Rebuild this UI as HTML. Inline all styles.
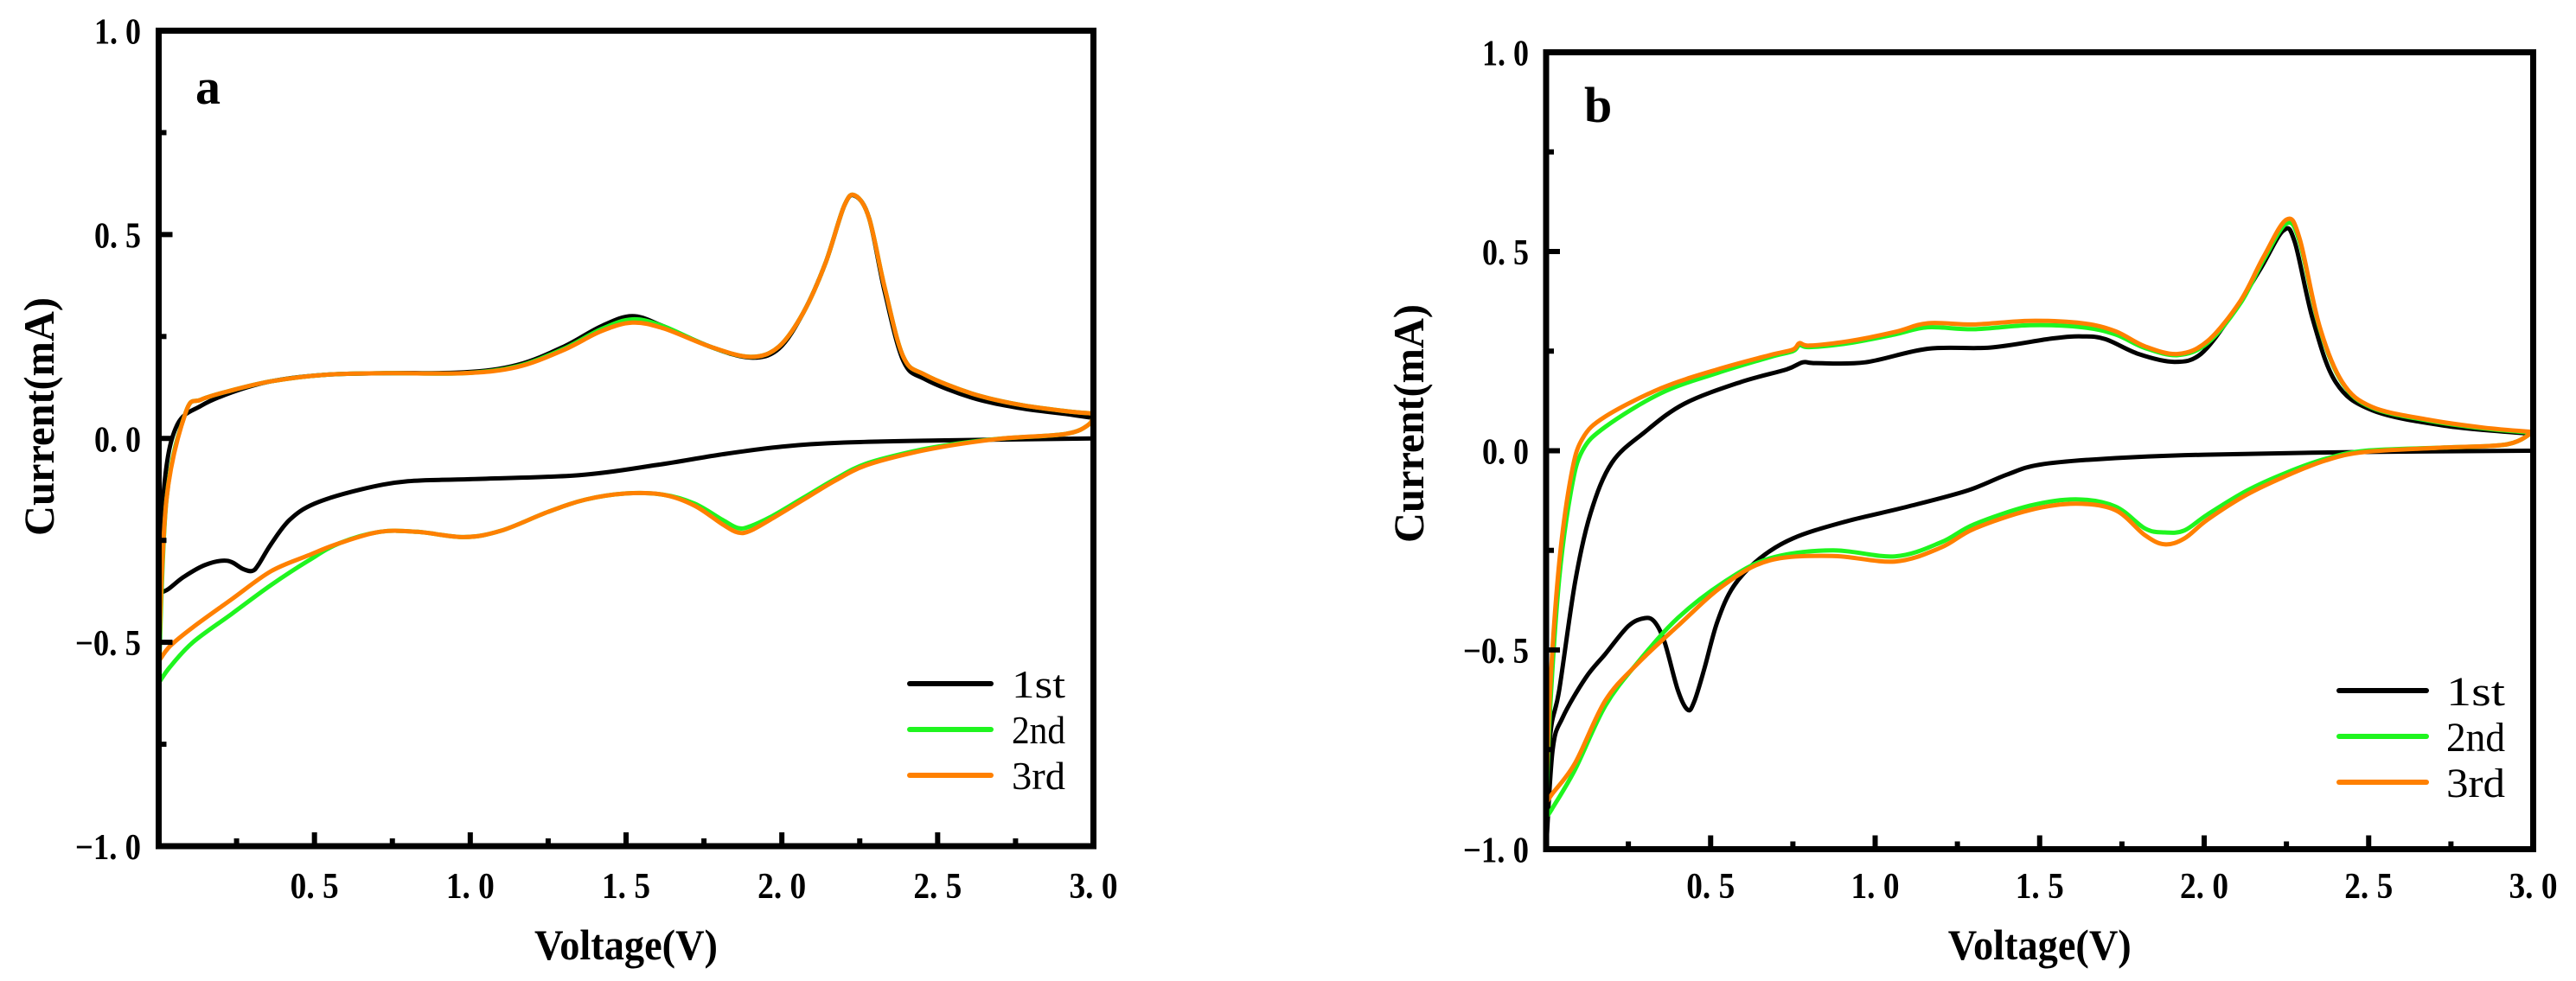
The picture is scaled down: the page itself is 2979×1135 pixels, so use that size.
<!DOCTYPE html>
<html><head><meta charset="utf-8"><style>
html,body{margin:0;padding:0;background:#fff;}
svg{display:block;}
text{font-family:"Liberation Serif",serif;fill:#000;}
</style></head><body>
<svg id="fig" width="2979" height="1135" viewBox="0 0 2979 1135" xmlns="http://www.w3.org/2000/svg"></svg>
<script>
// ---- Panel a data ----
const aV1=[0,0.03,0.08,0.15,0.22,0.27,0.3,0.32,0.36,0.42,0.5,0.65,0.8,1.0,1.35,1.6,1.8,2.0,2.2,2.5,3.0];
const aI1=[-0.38,-0.37,-0.34,-0.31,-0.3,-0.32,-0.325,-0.31,-0.26,-0.2,-0.16,-0.125,-0.105,-0.1,-0.09,-0.065,-0.04,-0.02,-0.01,-0.005,0.0];
const aV1u=[0,0.02,0.06,0.136,0.235,0.36,0.53,0.73,0.98,1.15,1.3,1.42,1.52,1.62,1.77,1.9,1.99,2.07,2.14,2.2,2.235,2.28,2.33,2.39,2.46,2.61,2.76,2.91,3.0];
const aI1u=[-0.38,-0.1,0.034,0.08,0.113,0.14,0.156,0.16,0.162,0.18,0.225,0.275,0.3,0.275,0.225,0.198,0.22,0.31,0.43,0.57,0.595,0.54,0.36,0.19,0.145,0.1,0.075,0.06,0.05];
const aV2=[0,0.037,0.11,0.235,0.36,0.48,0.58,0.71,0.83,0.98,1.1,1.25,1.37,1.5,1.62,1.72,1.81,1.86,1.9,1.97,2.07,2.17,2.27,2.42,2.56,2.71,2.91,2.985,3.0];
const aI2=[-0.6,-0.56,-0.5,-0.43,-0.36,-0.3,-0.257,-0.229,-0.229,-0.242,-0.226,-0.18,-0.15,-0.135,-0.138,-0.16,-0.2,-0.22,-0.215,-0.19,-0.145,-0.1,-0.062,-0.032,-0.013,0,0.011,0.034,0.061];
const aV2u=[0,0.025,0.087,0.136,0.235,0.36,0.53,0.73,0.98,1.15,1.3,1.42,1.52,1.62,1.77,1.9,1.99,2.07,2.14,2.2,2.235,2.28,2.33,2.39,2.46,2.61,2.76,2.91,3.0];
const aI2u=[-0.6,-0.15,0.064,0.095,0.118,0.14,0.156,0.16,0.16,0.177,0.22,0.268,0.292,0.275,0.225,0.2,0.225,0.31,0.43,0.57,0.596,0.54,0.37,0.2,0.156,0.11,0.083,0.067,0.061];
const aV3=[0,0.037,0.11,0.235,0.36,0.48,0.58,0.71,0.83,0.98,1.1,1.25,1.37,1.5,1.62,1.72,1.81,1.86,1.9,1.97,2.07,2.17,2.27,2.42,2.56,2.71,2.91,2.985,3.0];
const aI3=[-0.547,-0.509,-0.463,-0.394,-0.326,-0.287,-0.257,-0.229,-0.229,-0.242,-0.226,-0.18,-0.15,-0.135,-0.138,-0.165,-0.211,-0.231,-0.226,-0.196,-0.15,-0.104,-0.066,-0.035,-0.015,0,0.011,0.034,0.061];
const aV3u=[0,0.025,0.087,0.136,0.235,0.36,0.53,0.73,0.98,1.15,1.3,1.42,1.52,1.62,1.77,1.9,1.99,2.07,2.14,2.2,2.235,2.28,2.33,2.39,2.46,2.61,2.76,2.91,3.0];
const aI3u=[-0.547,-0.15,0.064,0.095,0.118,0.14,0.156,0.16,0.16,0.175,0.217,0.263,0.284,0.27,0.225,0.2,0.225,0.31,0.43,0.57,0.596,0.54,0.37,0.2,0.156,0.11,0.083,0.067,0.061];
// ---- Panel b data ----
const bV1=[0,0.02,0.05,0.12,0.18,0.25,0.3,0.33,0.36,0.4,0.43,0.45,0.48,0.52,0.57,0.65,0.75,0.9,1.1,1.28,1.4,1.5,1.7,2.0,2.5,3.0];
const bI1=[-1.0,-0.75,-0.67,-0.57,-0.51,-0.44,-0.42,-0.43,-0.48,-0.6,-0.65,-0.63,-0.55,-0.43,-0.34,-0.27,-0.22,-0.18,-0.14,-0.1,-0.06,-0.035,-0.02,-0.01,-0.003,0.0];
const bV1u=[0,0.012,0.04,0.088,0.135,0.2,0.3,0.42,0.59,0.73,0.78,0.82,0.97,1.16,1.35,1.54,1.63,1.7,1.8,1.91,1.99,2.08,2.17,2.24,2.275,2.33,2.4,2.51,2.73,3.0];
const bI1u=[-1.0,-0.72,-0.6,-0.33,-0.157,-0.03,0.047,0.118,0.172,0.204,0.222,0.22,0.222,0.256,0.259,0.282,0.287,0.28,0.243,0.223,0.243,0.337,0.455,0.552,0.525,0.33,0.172,0.102,0.063,0.042];
const bV2=[0,0.017,0.088,0.18,0.28,0.4,0.54,0.68,0.87,1.06,1.2,1.3,1.47,1.61,1.73,1.82,1.88,1.94,2.01,2.13,2.25,2.37,2.49,2.73,2.92,3.0];
const bI2=[-0.92,-0.9,-0.8,-0.64,-0.53,-0.42,-0.33,-0.27,-0.25,-0.265,-0.23,-0.185,-0.138,-0.122,-0.14,-0.195,-0.205,-0.2,-0.16,-0.1,-0.055,-0.02,0.0,0.008,0.016,0.047];
const bV2u=[0,0.012,0.04,0.076,0.11,0.18,0.35,0.52,0.68,0.75,0.77,0.8,0.92,1.06,1.16,1.3,1.47,1.63,1.73,1.82,1.92,2.01,2.11,2.18,2.25,2.29,2.35,2.42,2.51,2.68,2.85,3.0];
const bI2u=[-0.92,-0.65,-0.32,-0.1,0.0,0.06,0.145,0.195,0.235,0.25,0.265,0.26,0.27,0.292,0.31,0.305,0.315,0.31,0.292,0.258,0.24,0.27,0.37,0.478,0.57,0.525,0.31,0.17,0.108,0.076,0.056,0.045];
const bV3=[0,0.017,0.088,0.18,0.28,0.4,0.54,0.68,0.87,1.06,1.2,1.3,1.47,1.61,1.73,1.82,1.88,1.94,2.01,2.13,2.25,2.37,2.49,2.73,2.92,3.0];
const bI3=[-0.886,-0.863,-0.784,-0.627,-0.533,-0.44,-0.337,-0.275,-0.264,-0.278,-0.243,-0.196,-0.149,-0.133,-0.149,-0.212,-0.235,-0.22,-0.173,-0.11,-0.063,-0.024,-0.003,0.008,0.016,0.047];
const bV3u=[0,0.012,0.04,0.076,0.11,0.18,0.35,0.52,0.68,0.75,0.77,0.8,0.92,1.06,1.16,1.3,1.47,1.63,1.73,1.82,1.92,2.01,2.11,2.18,2.25,2.29,2.35,2.42,2.51,2.68,2.85,3.0];
const bI3u=[-0.886,-0.6,-0.28,-0.063,0.03,0.086,0.157,0.204,0.24,0.254,0.27,0.264,0.275,0.298,0.32,0.317,0.326,0.32,0.3,0.262,0.243,0.275,0.376,0.486,0.58,0.533,0.314,0.172,0.11,0.078,0.058,0.047];
const xTicks=["0.5","1.0","1.5","2.0","2.5","3.0"];
const xTickVals=[0.5,1.0,1.5,2.0,2.5,3.0];
const yTicks=["-1.0","-0.5","0.0","0.5","1.0"];
const yTickVals=[-1,-0.5,0,0.5,1];
const seriesNames=["1st","2nd","3rd"];
const seriesColors=["#000000","#1ff51f","#ff8000"];

const NS="http://www.w3.org/2000/svg";
const svg=document.getElementById('fig');
function mk(tag,attrs,parent){const e=document.createElementNS(NS,tag);for(const k in attrs)e.setAttribute(k,attrs[k]);(parent||svg).appendChild(e);return e;}
function smooth(pts){let d="M"+pts[0][0].toFixed(1)+","+pts[0][1].toFixed(1);
 for(let i=0;i<pts.length-1;i++){const p0=pts[i-1]||pts[i],p1=pts[i],p2=pts[i+1],p3=pts[i+2]||p2;
  const c1=[p1[0]+(p2[0]-p0[0])/6,p1[1]+(p2[1]-p0[1])/6],c2=[p2[0]-(p3[0]-p1[0])/6,p2[1]-(p3[1]-p1[1])/6];
  d+="C"+c1[0].toFixed(1)+","+c1[1].toFixed(1)+" "+c2[0].toFixed(1)+","+c2[1].toFixed(1)+" "+p2[0].toFixed(1)+","+p2[1].toFixed(1);}
 return d;}

function panel(P){
 const g=mk('g',{});
 
 
 const sx=v=>P.x0+(P.x1-P.x0)*v/3;
 const sy=v=>P.yb-(P.yb-P.yt)*(v+1)/2;
 P.series.forEach((s,k)=>{
  [[s[0],s[1]],[s[2],s[3]]].forEach((arr,j)=>{
   const pts=arr[0].map((v,i)=>[sx(v),sy(arr[1][i])]);
   const p=mk('path',{d:smooth(pts),fill:'none',stroke:seriesColors[k],'stroke-width':5,'stroke-linejoin':'round','stroke-linecap':'round'},g);
   
   
  });
 });
 const fr=mk('rect',{x:P.x0,y:P.yt,width:P.x1-P.x0,height:P.yb-P.yt,fill:'none',stroke:'#000','stroke-width':7},g);
 
 
 for(let v=0.25;v<3;v+=0.25){const maj=Math.abs(v*2-Math.round(v*2))<1e-6;
  mk('line',{x1:sx(v),x2:sx(v),y1:P.yb,y2:P.yb-(maj?16:9),stroke:'#000','stroke-width':6},g);}
 xTicks.forEach((t,i)=>{const e=mk('text',{x:sx(xTickVals[i]),y:P.xly,'text-anchor':'middle','font-size':42,'font-weight':'bold',textLength:56,lengthAdjust:'spacingAndGlyphs'},g);e.textContent=t.replace('.','. ');
  
  });
 for(let v=-0.75;v<1;v+=0.25){const maj=Math.abs(v*2-Math.round(v*2))<1e-6;
  mk('line',{x1:P.x0,x2:P.x0+(maj?16:9),y1:sy(v),y2:sy(v),stroke:'#000','stroke-width':6},g);}
 yTicks.forEach((t,i)=>{const neg=t[0]=='-';const e=mk('text',{x:P.ylx,y:sy(yTickVals[i])+15,'text-anchor':'end','font-size':42,'font-weight':'bold',textLength:neg?76:54,lengthAdjust:'spacingAndGlyphs'},g);e.textContent=(neg?'\u2212':'')+t.replace('-','').replace('.','. ');
  
  });
 const xt=mk('text',{x:(P.x0+P.x1)/2,y:P.xty,'text-anchor':'middle','font-size':50,'font-weight':'bold',textLength:212,lengthAdjust:'spacingAndGlyphs'},g);xt.textContent='Voltage(V)';
 
 
 const yt=mk('text',{x:0,y:0,'text-anchor':'middle','font-size':50,'font-weight':'bold',textLength:276,lengthAdjust:'spacingAndGlyphs',transform:`translate(${P.ytx},${P.yty}) rotate(-90)`},g);yt.textContent='Current(mA)';
 
 
 const lb=mk('text',{x:P.lblx,y:P.lbly,'font-size':58,'font-weight':'bold'},g);lb.textContent=P.id;
 
 
 seriesNames.forEach((n,k)=>{
  const le=mk('g',{},g);
  
  
  mk('line',{x1:P.lgx0,x2:P.lgx1,y1:P.lgy[k],y2:P.lgy[k],stroke:seriesColors[k],'stroke-width':6,'stroke-linecap':'round'},le);
  const t=mk('text',{x:P.lgtx,y:P.lgy[k]+P.lgdy,'font-size':P.lgfs,textLength:P.lgtw,lengthAdjust:'spacingAndGlyphs'},le);t.textContent=n;
 });
}
panel({id:'a',x0:183.5,x1:1264.5,yt:35.5,yb:979,xly:1039,xty:1110,ylx:163,ytx:62,yty:482,lblx:226,lbly:120,
 lgx0:1052,lgx1:1146,lgy:[791,844,897],lgtx:1170,lgdy:16,lgfs:46,lgtw:62,
 series:[[aV1,aI1,aV1u,aI1u],[aV2,aI2,aV2u,aI2u],[aV3,aI3,aV3u,aI3u]]});
panel({id:'b',x0:1788,x1:2929.5,yt:60.5,yb:982.5,xly:1039,xty:1110,ylx:1768,ytx:1646,yty:490,lblx:1832,lbly:141,
 lgx0:2705,lgx1:2806,lgy:[799,852,905],lgtx:2829,lgdy:17,lgfs:48,lgtw:68,
 series:[[bV1,bI1,bV1u,bI1u],[bV2,bI2,bV2u,bI2u],[bV3,bI3,bV3u,bI3u]]});
</script>
</body></html>
